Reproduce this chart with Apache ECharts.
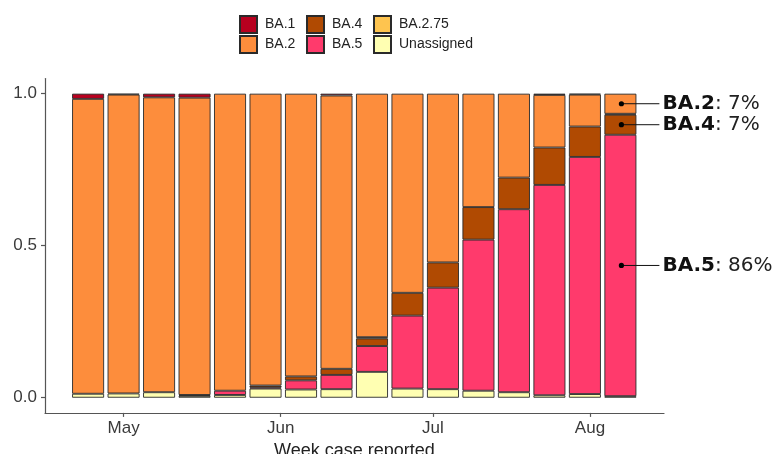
<!DOCTYPE html>
<html>
<head>
<meta charset="utf-8">
<script src="https://cdn.jsdelivr.net/npm/echarts@6/dist/echarts.min.js"></script>
<style>
  html, body { margin: 0; padding: 0; background: #ffffff; }
  #chart { width: 781px; height: 454px; }
</style>
</head>
<body>
<div id="chart"></div>
<script>
// Week (start date) each case was reported
const weeks = ['2022-04-24', '2022-05-01', '2022-05-08', '2022-05-15', '2022-05-22', '2022-05-29',
               '2022-06-05', '2022-06-12', '2022-06-19', '2022-06-26', '2022-07-03', '2022-07-10',
               '2022-07-17', '2022-07-24', '2022-07-31', '2022-08-07'];

// Weekly proportion of cases by lineage
const ba1        = [0.017, 0.003, 0.012, 0.013, 0,     0,     0,     0.006, 0,     0,     0,     0,     0,     0.004, 0.003, 0];
const ba2        = [0.970, 0.983, 0.970, 0.978, 0.977, 0.960, 0.930, 0.899, 0.801, 0.655, 0.555, 0.373, 0.276, 0.173, 0.105, 0.066];
const ba2_75     = [0,     0,     0,     0,     0,     0,     0,     0,     0.004, 0,     0,     0,     0,     0,     0,     0.003];
const ba4        = [0,     0,     0,     0.003, 0,     0.006, 0.013, 0.020, 0.025, 0.075, 0.083, 0.107, 0.104, 0.123, 0.100, 0.066];
const ba5        = [0,     0,     0,     0,     0.014, 0.004, 0.030, 0.047, 0.085, 0.240, 0.334, 0.497, 0.602, 0.692, 0.780, 0.860];
const unassigned = [0.013, 0.014, 0.018, 0.006, 0.009, 0.030, 0.027, 0.028, 0.085, 0.030, 0.028, 0.023, 0.018, 0.008, 0.012, 0.005];

// Axis ticks
const monthLabels = ['Jan', 'Feb', 'Mar', 'Apr', 'May', 'Jun', 'Jul', 'Aug', 'Sep', 'Oct', 'Nov', 'Dec'];
const yTicks = [0, 0.5, 1.0];

// Lineages in stacking order, bottom to top
const lineages = [
  { name: 'Unassigned', values: unassigned, color: '#ffffb2' },
  { name: 'BA.5',       values: ba5,        color: '#ff3a6c' },
  { name: 'BA.4',       values: ba4,        color: '#b04a02' },
  { name: 'BA.2.75',    values: ba2_75,     color: '#fec44f' },
  { name: 'BA.2',       values: ba2,        color: '#fd8d3c' },
  { name: 'BA.1',       values: ba1,        color: '#b8001f' }
];

// Lineages called out beside the latest week
const callouts = ['BA.2', 'BA.4', 'BA.5'];

const DAY = 86400000;
function toTime(s) {
  const p = s.split('-').map(Number);
  return new Date(p[0], p[1] - 1, p[2]).getTime();
}
const weekTimes = weeks.map(toTime);

// Visible date range; the bar layout pads each end by half a bar,
// so the requested extent is pulled in by that amount.
const BAR_WIDTH = 32;
const GRID_LEFT = 45, GRID_WIDTH = 619;
const rangeStart = toTime('2022-04-15') + 0.5 * DAY;
const rangeEnd = toTime('2022-08-15') + 0.6 * DAY;
const halfBar = (BAR_WIDTH / 2) * (rangeEnd - rangeStart) / GRID_WIDTH;

const series = lineages.map(l => ({
  name: l.name,
  type: 'bar',
  stack: 'share',
  barWidth: BAR_WIDTH,
  itemStyle: { color: l.color, borderColor: '#2a2a2a', borderWidth: 0.9 },
  emphasis: { disabled: true },
  data: l.values.map((v, i) => [weekTimes[i], v > 0 ? v : '-'])
}));

const legendBase = {
  orient: 'vertical',
  top: 15,
  padding: 0,
  itemWidth: 17,
  itemHeight: 17,
  itemGap: 1,
  icon: 'rect',
  selectedMode: false,
  textStyle: { fontFamily: 'Liberation Sans', fontSize: 14, color: '#222', padding: [0, 0, 0, 3] }
};

const chart = echarts.init(document.getElementById('chart'), null, { renderer: 'canvas' });
chart.setOption({
  animation: false,
  backgroundColor: '#ffffff',
  legend: [
    Object.assign({}, legendBase, { left: 239, data: ['BA.1', 'BA.2'] }),
    Object.assign({}, legendBase, { left: 306, data: ['BA.4', 'BA.5'] }),
    Object.assign({}, legendBase, { left: 373, data: ['BA.2.75', 'Unassigned'] })
  ],
  grid: {
    left: GRID_LEFT, width: GRID_WIDTH, top: 78.5, height: 334.4,
    containLabel: false, outerBoundsMode: 'none'
  },
  xAxis: {
    type: 'time',
    min: rangeStart + halfBar,
    max: rangeEnd - halfBar,
    minInterval: 28 * DAY,
    maxInterval: 31 * DAY,
    name: 'Week case reported',
    nameLocation: 'middle',
    nameGap: 25,
    nameTextStyle: { fontFamily: 'Liberation Sans', fontSize: 18, color: '#222' },
    axisLine: { show: true, onZero: false, lineStyle: { color: '#555', width: 1.2 } },
    axisTick: { show: true, length: 4, lineStyle: { color: '#555', width: 1.2 } },
    axisLabel: {
      margin: 7,
      hideOverlap: false,
      showMinLabel: false,
      showMaxLabel: false,
      fontFamily: 'Liberation Sans', fontSize: 17, color: '#3a3a3a',
      formatter: v => monthLabels[new Date(v).getMonth()]
    },
    splitLine: { show: false }
  },
  yAxis: {
    type: 'value',
    min: -0.05,
    max: 1.05,
    axisLine: { show: true, onZero: false, lineStyle: { color: '#555', width: 1.2 } },
    axisTick: { show: true, length: 4, lineStyle: { color: '#555', width: 1.2 }, customValues: yTicks },
    axisLabel: {
      customValues: yTicks,
      margin: 8,
      fontFamily: 'Liberation Sans', fontSize: 17, color: '#3a3a3a',
      formatter: v => v.toFixed(1)
    },
    splitLine: { show: false }
  },
  series: series
});

// Leader lines and labels for the latest week, placed at each segment's middle
const last = weeks.length - 1;
const graphics = [];
let base = 0;
lineages.forEach(l => {
  const v = l.values[last];
  const mid = base + v / 2;
  base += v;
  if (callouts.indexOf(l.name) < 0) return;
  const p = chart.convertToPixel({ gridIndex: 0 }, [weekTimes[last], mid]);
  const x0 = p[0] + 1, y0 = p[1];
  const x1 = x0 + 38;
  graphics.push({ type: 'line', shape: { x1: x0, y1: y0, x2: x1, y2: y0 }, style: { stroke: '#111', lineWidth: 1 }, z: 100 });
  graphics.push({ type: 'circle', shape: { cx: x0, cy: y0, r: 2.6 }, style: { fill: '#000' }, z: 101 });
  graphics.push({
    type: 'text', x: x1 + 3, y: y0, z: 101,
    style: {
      text: '{b|' + l.name + '}{n|: ' + Math.round(v * 100) + '%}',
      verticalAlign: 'middle',
      rich: {
        b: { fontFamily: 'DejaVu Sans', fontWeight: 'bold', fontSize: 20, fill: '#111' },
        n: { fontFamily: 'DejaVu Sans', fontSize: 20, fill: '#222' }
      }
    }
  });
});
chart.setOption({ graphic: graphics });
</script>
</body>
</html>
